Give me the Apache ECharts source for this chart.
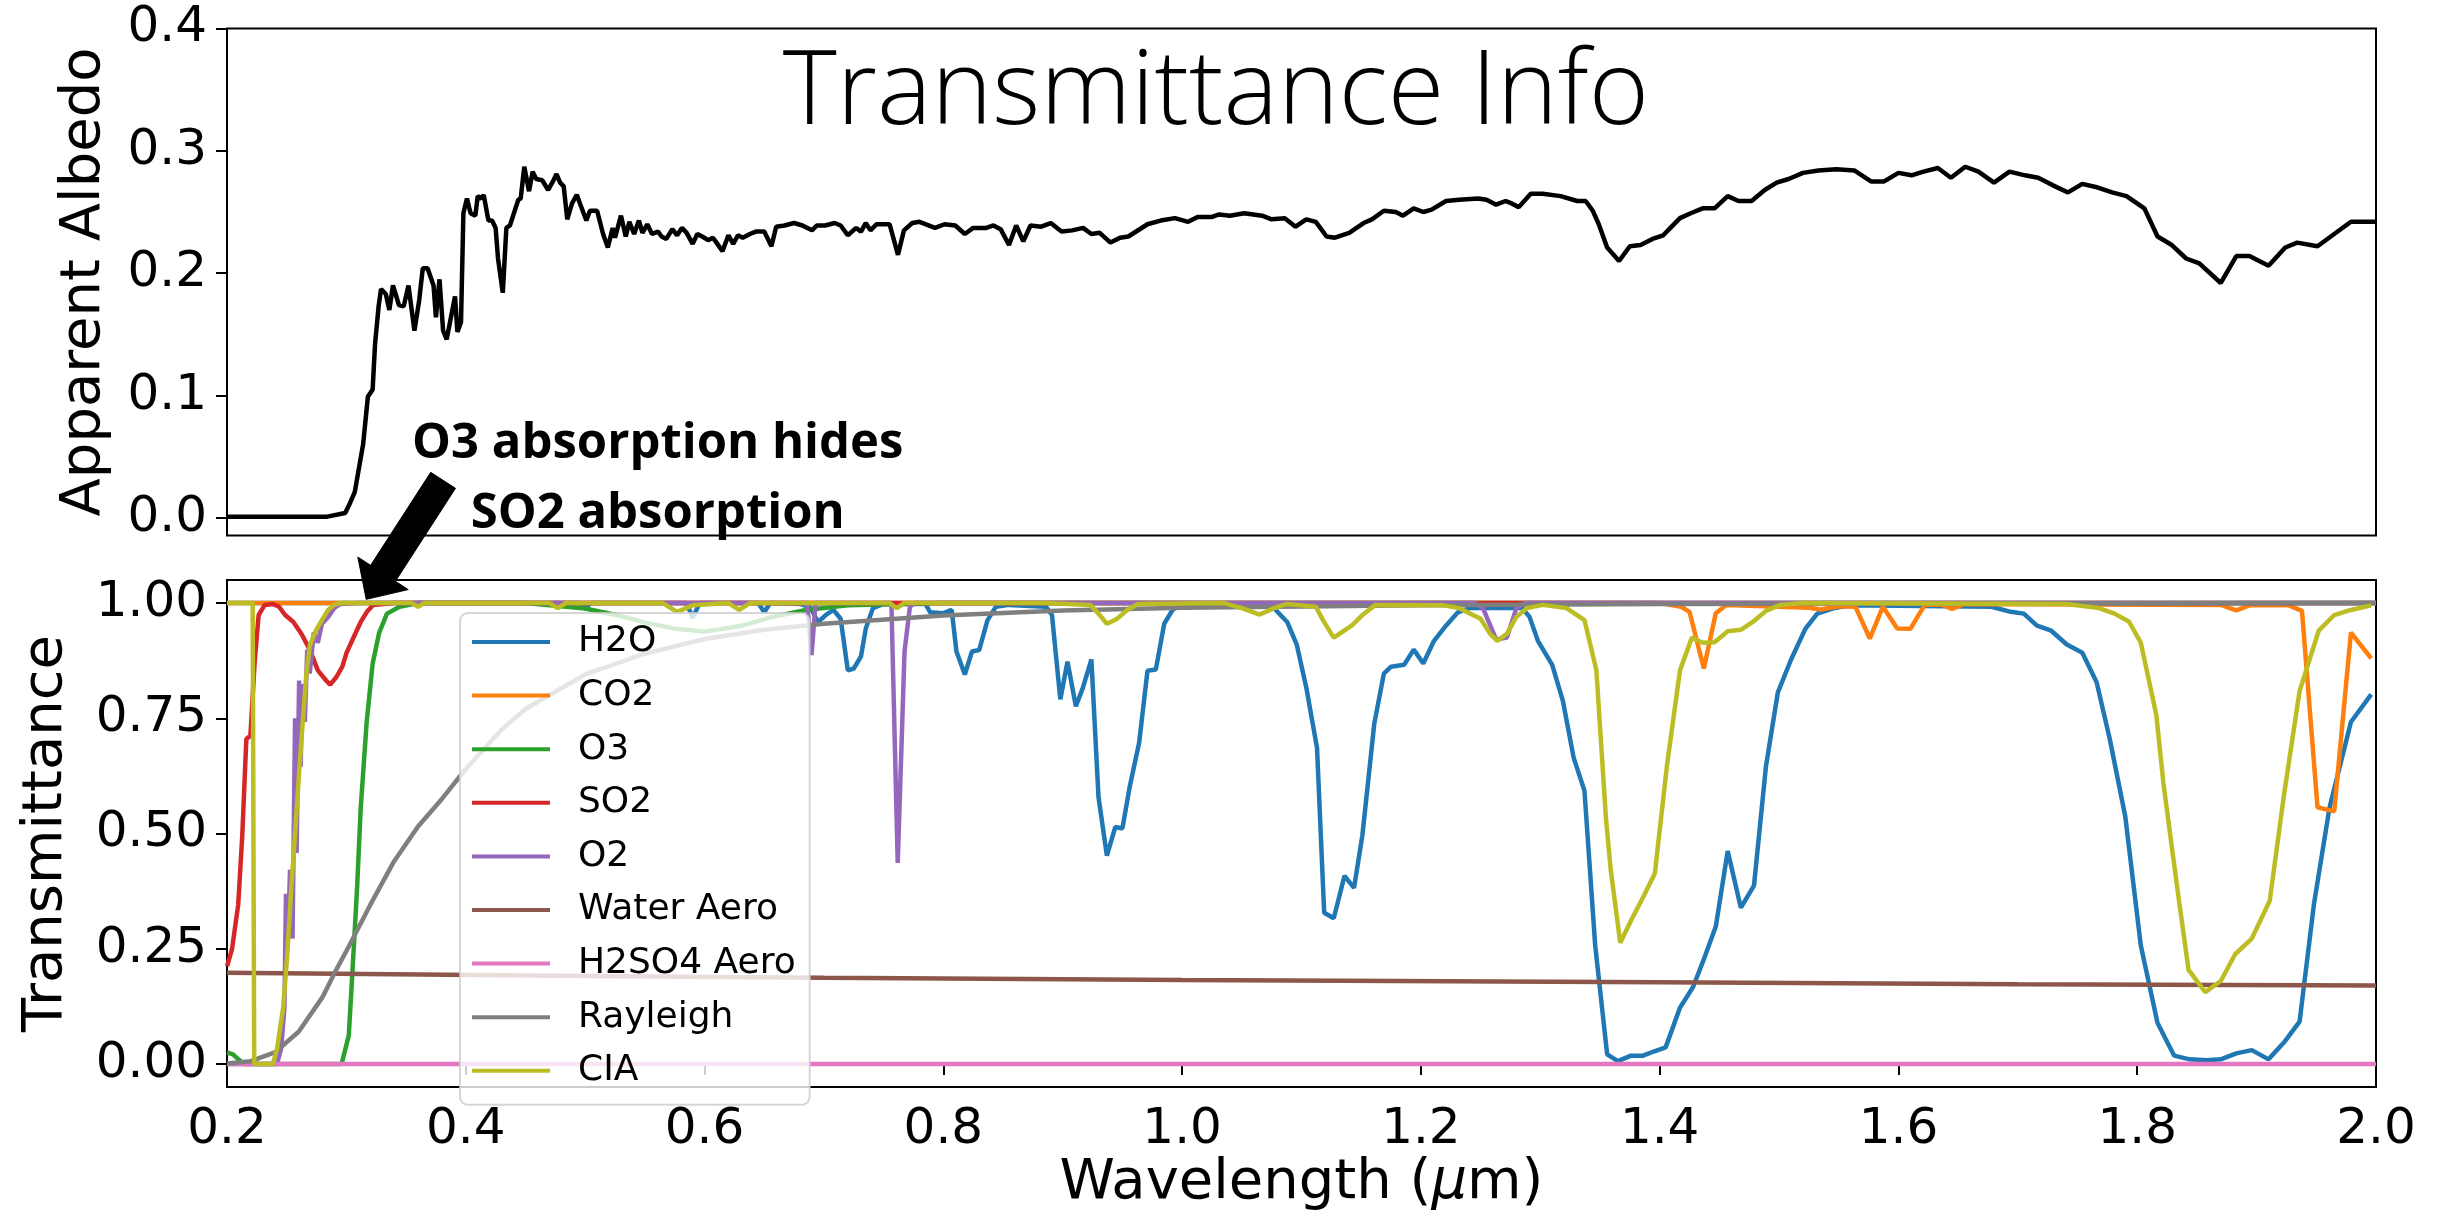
<!DOCTYPE html>
<html>
<head>
<meta charset="utf-8">
<script src="https://cdn.jsdelivr.net/npm/echarts@6.0.0/dist/echarts.min.js"></script>
<style>
html, body { margin: 0; padding: 0; background: #fff; }
#chart { width: 2440px; height: 1231px; }
</style>
</head>
<body>
<div id="chart"></div>
<script>
// wavelength (um), value pairs
var albedo = [[0.200,0.001],[0.284,0.001],[0.299,0.004],[0.303,0.012],[0.307,0.021],[0.314,0.060],[0.318,0.099],[0.322,0.105],[0.324,0.142],[0.327,0.173],[0.329,0.187],[0.333,0.183],[0.336,0.170],[0.339,0.190],[0.344,0.174],[0.348,0.173],[0.352,0.190],[0.357,0.153],[0.361,0.178],[0.364,0.204],[0.368,0.204],[0.373,0.190],[0.375,0.164],[0.378,0.195],[0.381,0.153],[0.384,0.146],[0.387,0.161],[0.391,0.181],[0.393,0.152],[0.396,0.160],[0.398,0.249],[0.401,0.261],[0.404,0.249],[0.408,0.247],[0.410,0.263],[0.413,0.261],[0.415,0.264],[0.419,0.243],[0.422,0.243],[0.425,0.237],[0.427,0.212],[0.431,0.184],[0.434,0.237],[0.437,0.239],[0.441,0.251],[0.444,0.260],[0.446,0.261],[0.449,0.287],[0.453,0.267],[0.456,0.283],[0.459,0.277],[0.464,0.276],[0.469,0.268],[0.473,0.275],[0.476,0.281],[0.479,0.274],[0.482,0.271],[0.485,0.244],[0.489,0.257],[0.493,0.264],[0.496,0.256],[0.501,0.243],[0.504,0.251],[0.510,0.251],[0.515,0.232],[0.519,0.221],[0.523,0.237],[0.525,0.229],[0.530,0.247],[0.534,0.230],[0.537,0.242],[0.541,0.232],[0.545,0.243],[0.548,0.233],[0.552,0.240],[0.556,0.232],[0.561,0.234],[0.564,0.230],[0.568,0.228],[0.573,0.236],[0.577,0.231],[0.581,0.237],[0.585,0.233],[0.590,0.224],[0.594,0.232],[0.598,0.230],[0.603,0.227],[0.607,0.229],[0.610,0.225],[0.615,0.218],[0.620,0.231],[0.624,0.224],[0.628,0.231],[0.632,0.229],[0.638,0.232],[0.643,0.234],[0.650,0.234],[0.656,0.222],[0.660,0.238],[0.667,0.239],[0.675,0.241],[0.682,0.239],[0.690,0.235],[0.694,0.239],[0.701,0.239],[0.709,0.241],[0.714,0.239],[0.720,0.231],[0.727,0.237],[0.731,0.234],[0.735,0.241],[0.739,0.235],[0.744,0.240],[0.755,0.240],[0.762,0.215],[0.767,0.235],[0.774,0.241],[0.780,0.242],[0.793,0.237],[0.801,0.240],[0.810,0.239],[0.818,0.232],[0.825,0.237],[0.836,0.237],[0.842,0.239],[0.848,0.236],[0.855,0.223],[0.861,0.239],[0.867,0.226],[0.873,0.239],[0.882,0.238],[0.890,0.241],[0.899,0.234],[0.908,0.235],[0.917,0.237],[0.924,0.232],[0.931,0.233],[0.940,0.225],[0.948,0.229],[0.955,0.230],[0.971,0.240],[0.982,0.243],[0.994,0.245],[1.005,0.242],[1.013,0.246],[1.025,0.246],[1.031,0.248],[1.040,0.247],[1.052,0.249],[1.067,0.247],[1.075,0.244],[1.086,0.245],[1.095,0.238],[1.104,0.244],[1.112,0.242],[1.121,0.230],[1.128,0.229],[1.140,0.233],[1.152,0.241],[1.159,0.244],[1.169,0.251],[1.179,0.250],[1.185,0.247],[1.194,0.253],[1.202,0.250],[1.209,0.252],[1.221,0.259],[1.232,0.260],[1.248,0.261],[1.255,0.260],[1.263,0.256],[1.271,0.259],[1.276,0.257],[1.282,0.254],[1.292,0.265],[1.302,0.265],[1.317,0.263],[1.331,0.259],[1.338,0.259],[1.344,0.251],[1.349,0.240],[1.356,0.221],[1.366,0.210],[1.375,0.222],[1.384,0.223],[1.394,0.228],[1.403,0.231],[1.409,0.237],[1.417,0.245],[1.426,0.249],[1.436,0.253],[1.446,0.253],[1.457,0.263],[1.466,0.259],[1.477,0.259],[1.488,0.268],[1.498,0.274],[1.508,0.277],[1.520,0.282],[1.533,0.284],[1.548,0.285],[1.563,0.284],[1.577,0.275],[1.588,0.275],[1.600,0.282],[1.611,0.280],[1.621,0.283],[1.633,0.286],[1.644,0.278],[1.656,0.287],[1.667,0.283],[1.680,0.274],[1.693,0.283],[1.706,0.280],[1.717,0.278],[1.729,0.272],[1.742,0.266],[1.754,0.273],[1.767,0.270],[1.779,0.266],[1.791,0.263],[1.806,0.253],[1.817,0.230],[1.829,0.223],[1.841,0.212],[1.852,0.208],[1.870,0.192],[1.883,0.214],[1.894,0.214],[1.910,0.206],[1.924,0.221],[1.934,0.225],[1.951,0.222],[1.965,0.232],[1.979,0.242],[1.994,0.242],[2.000,0.242]];

var h2o = [[0.2,1],[0.495,1],[0.5,0.99],[0.505,1],[0.585,1],[0.59,0.968],[0.596,1],[0.645,1],[0.65,0.98],[0.655,1],[0.68,0.998],[0.689,0.99],[0.695,0.959],[0.702,0.975],[0.708,0.985],[0.714,0.966],[0.720,0.854],[0.725,0.858],[0.731,0.884],[0.735,0.944],[0.741,0.989],[0.750,0.998],[0.785,0.998],[0.789,0.980],[0.800,0.978],[0.807,0.985],[0.811,0.895],[0.818,0.845],[0.824,0.895],[0.830,0.898],[0.837,0.963],[0.844,0.992],[0.855,0.996],[0.886,0.992],[0.891,0.974],[0.898,0.791],[0.904,0.873],[0.911,0.776],[0.917,0.817],[0.924,0.878],[0.930,0.578],[0.937,0.452],[0.944,0.514],[0.950,0.511],[0.956,0.600],[0.964,0.697],[0.971,0.853],[0.978,0.856],[0.985,0.955],[0.992,0.985],[1.000,0.998],[1.074,0.996],[1.081,0.978],[1.088,0.959],[1.096,0.910],[1.104,0.817],[1.113,0.686],[1.119,0.328],[1.127,0.316],[1.136,0.408],[1.144,0.382],[1.151,0.496],[1.161,0.739],[1.169,0.847],[1.175,0.862],[1.186,0.866],[1.194,0.899],[1.202,0.869],[1.211,0.918],[1.221,0.951],[1.231,0.980],[1.241,0.989],[1.285,0.989],[1.291,0.970],[1.298,0.918],[1.310,0.866],[1.319,0.787],[1.328,0.664],[1.337,0.593],[1.346,0.257],[1.356,0.021],[1.365,0.006],[1.376,0.018],[1.386,0.018],[1.395,0.027],[1.405,0.036],[1.417,0.122],[1.428,0.167],[1.438,0.234],[1.447,0.298],[1.457,0.462],[1.468,0.339],[1.479,0.387],[1.489,0.645],[1.499,0.806],[1.510,0.877],[1.522,0.944],[1.532,0.977],[1.546,0.989],[1.561,0.995],[1.678,0.992],[1.694,0.981],[1.705,0.977],[1.716,0.951],[1.728,0.940],[1.741,0.910],[1.754,0.892],[1.766,0.828],[1.777,0.705],[1.790,0.537],[1.803,0.257],[1.817,0.089],[1.831,0.018],[1.844,0.010],[1.858,0.008],[1.870,0.010],[1.883,0.023],[1.896,0.030],[1.910,0.010],[1.923,0.047],[1.936,0.092],[1.948,0.346],[1.961,0.555],[1.979,0.742],[1.996,0.802]];

var co2 = [[0.2,1],[1.40,1],[1.418,0.992],[1.425,0.981],[1.437,0.858],[1.447,0.978],[1.456,0.996],[1.525,0.99],[1.535,0.986],[1.55,0.993],[1.564,0.992],[1.576,0.923],[1.587,0.992],[1.599,0.945],[1.610,0.944],[1.622,0.996],[1.636,0.997],[1.645,0.987],[1.655,0.998],[1.87,0.996],[1.883,0.984],[1.895,0.996],[1.927,0.995],[1.938,0.983],[1.951,0.557],[1.965,0.548],[1.979,0.936],[1.996,0.880]];

var o3 = [[0.2,0.025],[0.205,0.021],[0.21,0.009],[0.214,0.0],[0.296,0.0],[0.302,0.062],[0.305,0.197],[0.309,0.384],[0.312,0.555],[0.317,0.742],[0.322,0.869],[0.3275,0.936],[0.334,0.977],[0.3445,0.992],[0.36,1.0],[0.45,1.0],[0.50,0.988],[0.526,0.974],[0.55,0.958],[0.574,0.945],[0.60,0.938],[0.63,0.95],[0.657,0.970],[0.685,0.985],[0.72,0.995],[0.80,1.0],[2.0,1.0]];

var so2 = [[0.2,0.212],[0.2042,0.249],[0.2094,0.346],[0.2128,0.496],[0.2162,0.705],[0.2196,0.712],[0.2231,0.869],[0.2265,0.974],[0.2316,0.996],[0.2385,0.998],[0.2436,0.992],[0.2487,0.974],[0.2556,0.959],[0.2624,0.933],[0.2693,0.899],[0.2761,0.854],[0.2830,0.832],[0.2864,0.823],[0.2915,0.839],[0.2966,0.862],[0.3001,0.892],[0.3052,0.921],[0.3120,0.959],[0.3172,0.981],[0.3223,0.996],[0.34,1.0],[2.0,1.0]];

var o2 = [[0.2,0.0],[0.2419,0.0],[0.2453,0.033],[0.2481,0.122],[0.2494,0.369],[0.2508,0.257],[0.2528,0.421],[0.2549,0.272],[0.2570,0.750],[0.2583,0.458],[0.2604,0.832],[0.2617,0.645],[0.2631,0.824],[0.2652,0.742],[0.2672,0.899],[0.2693,0.847],[0.2727,0.936],[0.2761,0.914],[0.2795,0.955],[0.2847,0.970],[0.2898,0.989],[0.2949,0.998],[0.31,1.0],[0.686,1.0],[0.6896,0.887],[0.693,1.0],[0.7565,1.0],[0.7618,0.436],[0.7675,0.895],[0.772,0.992],[0.776,1.0],[1.245,1.0],[1.252,0.989],[1.263,0.921],[1.272,0.925],[1.280,0.989],[1.287,1.0],[2.0,1.0]];

var waterAero = [[0.2,0.198],[0.5,0.191],[0.7,0.187],[1.0,0.182],[1.4,0.177],[1.7,0.173],[2.0,0.170]];

var h2so4Aero = [[0.2,0.0],[2.0,0.0]];

var rayleigh = [[0.20,0.001],[0.22,0.006],[0.24,0.025],[0.26,0.07],[0.28,0.145],[0.29,0.197],[0.30,0.245],[0.32,0.345],[0.34,0.44],[0.36,0.515],[0.38,0.575],[0.40,0.64],[0.43,0.725],[0.45,0.77],[0.50,0.845],[0.55,0.89],[0.60,0.922],[0.65,0.942],[0.70,0.955],[0.80,0.973],[0.90,0.984],[1.00,0.990],[1.20,0.995],[1.40,0.998],[1.70,0.999],[2.00,1.0]];

var cia = [[0.2,1.0],[0.2215,1.0],[0.2228,0.0],[0.2385,0.0],[0.2419,0.033],[0.247,0.122],[0.2504,0.234],[0.2539,0.384],[0.2573,0.511],[0.2607,0.645],[0.2641,0.765],[0.2665,0.847],[0.2693,0.907],[0.2744,0.940],[0.2795,0.963],[0.2847,0.985],[0.2898,0.996],[0.295,1.0],[0.355,1.0],[0.36,0.992],[0.365,1.0],[0.470,1.0],[0.477,0.989],[0.484,1.0],[0.565,1.0],[0.577,0.981],[0.590,0.995],[0.62,1.0],[0.629,0.985],[0.638,1.0],[0.755,1.0],[0.761,0.989],[0.767,1.0],[0.885,1.0],[0.923,0.996],[0.930,0.977],[0.937,0.955],[0.945,0.965],[0.954,0.985],[0.963,0.998],[1.035,1.0],[1.050,0.989],[1.065,0.975],[1.077,0.989],[1.088,0.998],[1.112,0.992],[1.118,0.963],[1.127,0.925],[1.142,0.951],[1.151,0.974],[1.162,0.996],[1.219,0.995],[1.232,0.989],[1.250,0.966],[1.258,0.933],[1.264,0.918],[1.272,0.933],[1.280,0.970],[1.289,0.989],[1.302,0.996],[1.322,0.989],[1.337,0.963],[1.347,0.854],[1.355,0.533],[1.359,0.421],[1.367,0.263],[1.377,0.316],[1.386,0.361],[1.396,0.414],[1.406,0.645],[1.417,0.854],[1.427,0.925],[1.436,0.914],[1.446,0.915],[1.457,0.939],[1.468,0.942],[1.478,0.959],[1.489,0.983],[1.501,0.996],[1.52,1.0],[1.741,0.998],[1.768,0.989],[1.781,0.977],[1.793,0.960],[1.803,0.914],[1.816,0.757],[1.822,0.608],[1.830,0.451],[1.835,0.354],[1.843,0.204],[1.857,0.156],[1.870,0.180],[1.882,0.238],[1.896,0.272],[1.911,0.354],[1.923,0.585],[1.936,0.809],[1.952,0.940],[1.965,0.974],[1.979,0.985],[1.996,0.995]];

var xTicks = [0.2, 0.4, 0.6, 0.8, 1.0, 1.2, 1.4, 1.6, 1.8, 2.0];
var albedoTicks = [0.0, 0.1, 0.2, 0.3, 0.4];
var transTicks = [0.0, 0.25, 0.5, 0.75, 1.0];

var names = ['H2O', 'CO2', 'O3', 'SO2', 'O2', 'Water Aero', 'H2SO4 Aero', 'Rayleigh', 'CIA'];
var colors = ['#1f77b4', '#ff7f0e', '#2ca02c', '#d62728', '#9467bd', '#8c564b', '#e377c2', '#7f7f7f', '#bcbd22'];
var bottomData = [h2o, co2, o3, so2, o2, waterAero, h2so4Aero, rayleigh, cia];

// annotation: arrow tip in lower panel, tail and text in upper panel
var arrowTip = [0.3166, 1.008];
var arrowTail = [0.381, 0.0307];
var noteAt = [0.5608, 0.0];

var FONT = 'DejaVu Sans';
var chart = echarts.init(document.getElementById('chart'));

var series = [{
	name: 'Apparent Albedo',
	type: 'line',
	xAxisIndex: 0,
	yAxisIndex: 0,
	data: albedo,
	symbol: 'none',
	color: '#000',
	lineStyle: { width: 4.5, color: '#000' }
}];
for (var i = 0; i < names.length; i++) {
	series.push({
		name: names[i],
		type: 'line',
		xAxisIndex: 1,
		yAxisIndex: 1,
		data: bottomData[i],
		symbol: 'none',
		color: colors[i],
		lineStyle: { width: 4.5, color: colors[i] }
	});
}

function yAxisOf(grid, min, max, ticks, digits, name, gap) {
	return {
		type: 'value',
		gridIndex: grid,
		min: min,
		max: max,
		name: name,
		nameLocation: 'middle',
		nameGap: gap,
		nameTextStyle: { fontFamily: FONT, fontSize: 56, color: '#000' },
		axisLine: { show: false },
		axisTick: { show: true, customValues: ticks, length: 11, lineStyle: { color: '#000', width: 2 } },
		axisLabel: {
			customValues: ticks, margin: 20, fontFamily: FONT, fontSize: 50, color: '#000',
			formatter: function (v) { return Number(v).toFixed(digits); }
		},
		splitLine: { show: false }
	};
}

var option = {
	animation: false,
	backgroundColor: '#fff',
	grid: [
		{ left: 227, top: 28.5, width: 2149, height: 507, show: true, borderColor: '#000', borderWidth: 2 },
		{ left: 227, top: 580, width: 2149, height: 507, show: true, borderColor: '#000', borderWidth: 2 }
	],
	xAxis: [
		{
			type: 'value', gridIndex: 0, min: 0.2, max: 2.0,
			axisLine: { show: false }, axisTick: { show: false }, axisLabel: { show: false }, splitLine: { show: false }
		},
		{
			type: 'value', gridIndex: 1, min: 0.2, max: 2.0,
			name: 'Wavelength ({i|μ}m)',
			nameLocation: 'middle',
			nameGap: 46,
			nameTextStyle: {
				fontFamily: FONT, fontSize: 56, color: '#000',
				rich: { i: { fontFamily: FONT, fontSize: 56, fontStyle: 'italic', color: '#000' } }
			},
			axisLine: { show: false },
			axisTick: { show: true, customValues: xTicks, length: 11, lineStyle: { color: '#000', width: 2 } },
			axisLabel: {
				customValues: xTicks, margin: 18, fontFamily: FONT, fontSize: 50, color: '#000',
				formatter: function (v) { return Number(v).toFixed(1); }
			},
			splitLine: { show: false }
		}
	],
	yAxis: [
		yAxisOf(0, -0.0144, 0.4, albedoTicks, 1, 'Apparent Albedo', 115),
		yAxisOf(1, -0.05, 1.05, transTicks, 2, 'Transmittance', 153)
	],
	legend: {
		data: names,
		orient: 'vertical',
		left: 460,
		top: 613,
		padding: [7, 14, 12, 12],
		itemGap: 9.6,
		itemWidth: 78,
		itemHeight: 4,
		icon: 'rect',
		selectedMode: false,
		backgroundColor: 'rgba(255,255,255,0.8)',
		borderColor: 'rgba(204,204,204,0.8)',
		borderWidth: 2,
		borderRadius: 8,
		textStyle: { fontFamily: FONT, fontSize: 36, color: '#000', lineHeight: 44, padding: [0, 0, 0, 23] }
	},
	series: series
};
chart.setOption(option);

// arrow and notes, placed through the axes
var tip = chart.convertToPixel({ gridIndex: 1 }, arrowTip);
var tail = chart.convertToPixel({ gridIndex: 0 }, arrowTail);
var note = chart.convertToPixel({ gridIndex: 0 }, noteAt);
var dx = tip[0] - tail[0], dy = tip[1] - tail[1];
var len = Math.sqrt(dx * dx + dy * dy);
var ux = dx / len, uy = dy / len;
var px = -uy, py = ux;
var hw = 14.75, hh = 30, hl = 31;
var bx = tip[0] - ux * hl, by = tip[1] - uy * hl;
var pts = [
	[tail[0] + px * hw, tail[1] + py * hw],
	[bx + px * hw, by + py * hw],
	[bx + px * hh, by + py * hh],
	[tip[0], tip[1]],
	[bx - px * hh, by - py * hh],
	[bx - px * hw, by - py * hw],
	[tail[0] - px * hw, tail[1] - py * hw]
];

chart.setOption({
	graphic: [
		{
			type: 'text', x: 1216, y: 95, z: 10,
			style: { text: 'Transmittance Info', fontFamily: 'Open Sans', fontWeight: 300, fontSize: 103, fill: '#000', align: 'center', verticalAlign: 'middle' }
		},
		{
			type: 'text', x: note[0], y: note[1] - 74, z: 10,
			style: { text: 'O3 absorption hides', fontFamily: 'Open Sans', fontWeight: 'bold', fontSize: 49, fill: '#000', align: 'center', verticalAlign: 'middle' }
		},
		{
			type: 'text', x: note[0], y: note[1] - 4, z: 10,
			style: { text: 'SO2 absorption', fontFamily: 'Open Sans', fontWeight: 'bold', fontSize: 49, fill: '#000', align: 'center', verticalAlign: 'middle' }
		},
		{
			type: 'polygon', z: 10,
			shape: { points: pts },
			style: { fill: '#000', stroke: '#000', lineWidth: 1 }
		}
	]
});
</script>
</body>
</html>
